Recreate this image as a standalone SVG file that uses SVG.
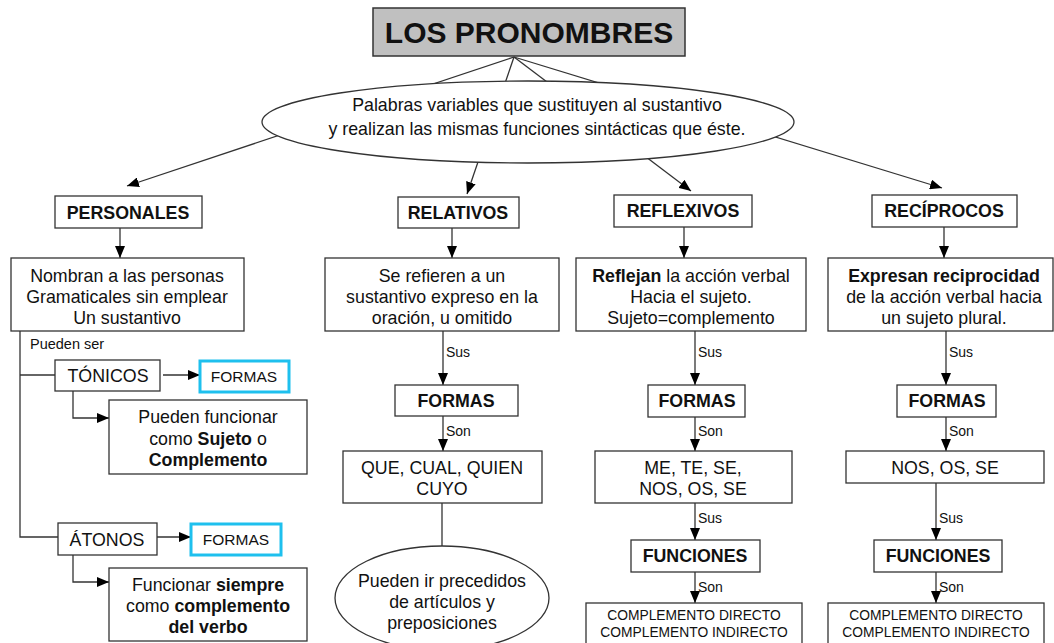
<svg xmlns="http://www.w3.org/2000/svg" width="1054" height="643" viewBox="0 0 1054 643">
<defs>
<style>
.t{font-family:"Liberation Sans",Arial,sans-serif;font-size:17.8px;fill:#111;text-anchor:middle}
.b{font-weight:bold}
.h{font-family:"Liberation Sans",Arial,sans-serif;font-size:17.8px;font-weight:bold;fill:#111;text-anchor:middle}
.s{font-family:"Liberation Sans",Arial,sans-serif;font-size:14px;fill:#111}
.c{font-family:"Liberation Sans",Arial,sans-serif;font-size:13.8px;fill:#111;text-anchor:middle}
.f{font-family:"Liberation Sans",Arial,sans-serif;font-size:15.5px;fill:#111;text-anchor:middle}
.box{fill:#fff;stroke:#333;stroke-width:1.3}
.cy{fill:#fff;stroke:#1ec0ee;stroke-width:3}
.ln{fill:none;stroke:#333;stroke-width:1.3}
.ar{fill:none;stroke:#333;stroke-width:1.3;marker-end:url(#ah)}
</style>
<marker id="ah" viewBox="0 0 12 10" refX="12" refY="5" markerWidth="12" markerHeight="10" orient="auto" markerUnits="userSpaceOnUse"><path d="M0,0 L12,5 L0,10 z" fill="#000"/></marker>
</defs>
<rect width="1054" height="643" fill="#fff"/>

<g id="connectors">
<line class="ar" x1="514" y1="57" x2="127" y2="186"/>
<line class="ar" x1="514" y1="57" x2="467" y2="194"/>
<line class="ar" x1="514" y1="57" x2="691" y2="191"/>
<line class="ar" x1="514" y1="57" x2="942" y2="188"/>
<line class="ar" x1="120" y1="228" x2="120" y2="258"/>
<line class="ar" x1="452" y1="228" x2="452" y2="258"/>
<line class="ar" x1="684" y1="227" x2="684" y2="258"/>
<line class="ar" x1="944" y1="227" x2="944" y2="258"/>
<polyline class="ln" points="20,331 20,537 58,537"/>
<line class="ln" x1="20" y1="375" x2="55" y2="375"/>
<line class="ar" x1="163" y1="375" x2="200" y2="375"/>
<polyline class="ar" points="73,391 73,418 109,418"/>
<line class="ar" x1="155" y1="537" x2="191" y2="537"/>
<polyline class="ar" points="73,555 73,582 109,582"/>
<text class="s" x="30" y="349" style="font-size:14.5px">Pueden ser</text>
<line class="ar" x1="443" y1="331" x2="443" y2="385"/>
<text class="s" x="446" y="357">Sus</text>
<line class="ar" x1="443" y1="416" x2="443" y2="451"/>
<text class="s" x="446" y="436">Son</text>
<line class="ln" x1="442" y1="503" x2="442" y2="546"/>
<line class="ar" x1="695" y1="331" x2="695" y2="385"/>
<text class="s" x="698" y="357">Sus</text>
<line class="ar" x1="695" y1="417" x2="695" y2="451"/>
<text class="s" x="698" y="436">Son</text>
<line class="ar" x1="695" y1="503" x2="695" y2="540"/>
<text class="s" x="698" y="523">Sus</text>
<line class="ar" x1="695" y1="572" x2="695" y2="603"/>
<text class="s" x="698" y="592">Son</text>
<line class="ar" x1="946" y1="331" x2="946" y2="385"/>
<text class="s" x="949" y="357">Sus</text>
<line class="ar" x1="946" y1="417" x2="946" y2="451"/>
<text class="s" x="949" y="436">Son</text>
<line class="ar" x1="936" y1="483" x2="936" y2="540"/>
<text class="s" x="939" y="523">Sus</text>
<line class="ar" x1="936" y1="572" x2="936" y2="603"/>
<text class="s" x="939" y="592">Son</text>
</g>

<g id="title">
<rect x="373" y="8" width="312" height="48" fill="#c0c0c0" stroke="#333" stroke-width="1.5"/>
<text class="t b" x="529" y="43" style="font-size:30px">LOS PRONOMBRES</text>
</g>
<g id="definicion">
<ellipse cx="528" cy="122" rx="266" ry="41" class="box"/>
<text class="t" x="537" y="111">Palabras variables que sustituyen al sustantivo</text>
<text class="t" x="537" y="135">y realizan las mismas funciones sintácticas que éste.</text>
</g>

<g id="personales">
<rect class="box" x="55" y="196" width="147" height="32"/>
<text class="h" x="128" y="219">PERSONALES</text>
</g>
<g id="personales-desc">
<rect class="box" x="11" y="258" width="233" height="73"/>
<text class="t" x="127" y="282">Nombran a las personas</text>
<text class="t" x="127" y="303">Gramaticales sin emplear</text>
<text class="t" x="127" y="324">Un sustantivo</text>
</g>
<g id="tonicos">
<rect class="box" x="55" y="360" width="105" height="31"/>
<text class="t" x="108" y="382">TÓNICOS</text>
</g>
<g id="tonicos-formas">
<rect class="cy" x="200" y="361" width="89" height="31"/>
<text class="f" x="244" y="382">FORMAS</text>
</g>
<g id="tonicos-funcion">
<rect class="box" x="109" y="400" width="198" height="74"/>
<text class="t" x="208" y="423">Pueden funcionar</text>
<text class="t" x="208" y="445">como <tspan class="b">Sujeto</tspan> o</text>
<text class="t b" x="208" y="466">Complemento</text>
</g>
<g id="atonos">
<rect class="box" x="58" y="523" width="99" height="32"/>
<text class="t" x="107" y="546">ÁTONOS</text>
</g>
<g id="atonos-formas">
<rect class="cy" x="191" y="524" width="90" height="31"/>
<text class="f" x="236" y="545">FORMAS</text>
</g>
<g id="atonos-funcion">
<rect class="box" x="109" y="568" width="198" height="73"/>
<text class="t" x="208" y="591">Funcionar <tspan class="b">siempre</tspan></text>
<text class="t" x="208" y="612">como <tspan class="b">complemento</tspan></text>
<text class="t b" x="208" y="633">del verbo</text>
</g>

<g id="relativos">
<rect class="box" x="398" y="197" width="121" height="31"/>
<text class="h" x="458" y="219">RELATIVOS</text>
</g>
<g id="relativos-desc">
<rect class="box" x="325" y="258" width="234" height="73"/>
<text class="t" x="442" y="282">Se refieren a un</text>
<text class="t" x="442" y="303">sustantivo expreso en la</text>
<text class="t" x="442" y="324">oración, u omitido</text>
</g>
<g id="relativos-formas">
<rect class="box" x="395" y="385" width="123" height="31"/>
<text class="h" x="456" y="407">FORMAS</text>
</g>
<g id="relativos-lista">
<rect class="box" x="343" y="451" width="199" height="52"/>
<text class="t" x="442" y="474">QUE, CUAL, QUIEN</text>
<text class="t" x="442" y="495">CUYO</text>
</g>
<g id="relativos-nota">
<ellipse class="box" cx="442" cy="598" rx="107" ry="52"/>
<text class="t" x="442" y="587">Pueden ir precedidos</text>
<text class="t" x="442" y="608">de artículos y</text>
<text class="t" x="442" y="629">preposiciones</text>
</g>

<g id="reflexivos">
<rect class="box" x="614" y="195" width="138" height="32"/>
<text class="h" x="683" y="217">REFLEXIVOS</text>
</g>
<g id="reflexivos-desc">
<rect class="box" x="576" y="258" width="230" height="73"/>
<text class="t" x="691" y="282"><tspan class="b">Reflejan</tspan> la acción verbal</text>
<text class="t" x="691" y="303">Hacia el sujeto.</text>
<text class="t" x="691" y="324">Sujeto=complemento</text>
</g>
<g id="reflexivos-formas">
<rect class="box" x="648" y="385" width="97" height="32"/>
<text class="h" x="697" y="407">FORMAS</text>
</g>
<g id="reflexivos-lista">
<rect class="box" x="595" y="451" width="197" height="52"/>
<text class="t" x="693" y="474">ME, TE, SE,</text>
<text class="t" x="693" y="495">NOS, OS, SE</text>
</g>
<g id="reflexivos-funciones">
<rect class="box" x="631" y="540" width="129" height="32"/>
<text class="h" x="695" y="562">FUNCIONES</text>
</g>
<g id="reflexivos-complementos">
<rect class="box" x="586" y="603" width="216" height="45"/>
<text class="c" x="694" y="620">COMPLEMENTO DIRECTO</text>
<text class="c" x="694" y="637">COMPLEMENTO INDIRECTO</text>
</g>

<g id="reciprocos">
<rect class="box" x="872" y="195" width="145" height="32"/>
<text class="h" x="944" y="217">RECÍPROCOS</text>
</g>
<g id="reciprocos-desc">
<rect class="box" x="828" y="258" width="225" height="73"/>
<text class="t" x="944" y="282"><tspan class="b">Expresan reciprocidad</tspan></text>
<text class="t" x="944" y="303">de la acción verbal hacia</text>
<text class="t" x="944" y="324">un sujeto plural.</text>
</g>
<g id="reciprocos-formas">
<rect class="box" x="897" y="385" width="99" height="32"/>
<text class="h" x="947" y="407">FORMAS</text>
</g>
<g id="reciprocos-lista">
<rect class="box" x="846" y="451" width="198" height="32"/>
<text class="t" x="945" y="474">NOS, OS, SE</text>
</g>
<g id="reciprocos-funciones">
<rect class="box" x="874" y="540" width="128" height="32"/>
<text class="h" x="938" y="562">FUNCIONES</text>
</g>
<g id="reciprocos-complementos">
<rect class="box" x="828" y="603" width="216" height="45"/>
<text class="c" x="936" y="620">COMPLEMENTO DIRECTO</text>
<text class="c" x="936" y="637">COMPLEMENTO INDIRECTO</text>
</g>
</svg>
